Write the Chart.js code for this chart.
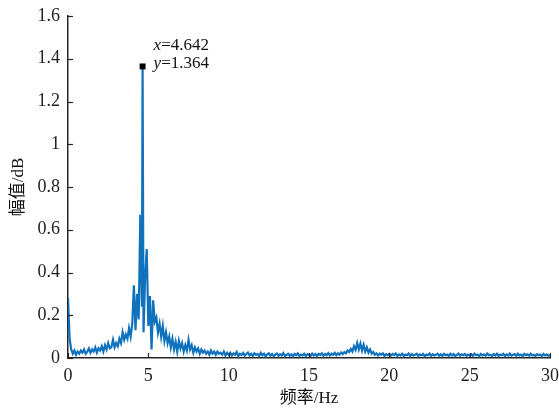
<!DOCTYPE html>
<html>
<head>
<meta charset="utf-8">
<script src="https://cdn.jsdelivr.net/npm/chart.js@4/dist/chart.umd.min.js"></script>
<style>
  html, body { margin: 0; padding: 0; background: #fff; }
  #wrap { width: 559px; height: 409px; }
</style>
</head>
<body>
<div id="wrap"><canvas id="specChart" width="559" height="409"></canvas></div>

<script>
  // spectrum bins, 0.1 Hz apart starting at 0 Hz
  var binStep = 0.1;
  var amplitude = [
    0.28, 0.09, 0.04, 0.02, 0.035, 0.015, 0.03, 0.02, 0.035, 0.025,
    0.04, 0.02, 0.03, 0.045, 0.025, 0.04, 0.03, 0.05, 0.025, 0.045,
    0.035, 0.055, 0.03, 0.06, 0.04, 0.07, 0.045, 0.05, 0.085, 0.05,
    0.07, 0.055, 0.09, 0.07, 0.12, 0.085, 0.11, 0.09, 0.14, 0.1,
    0.16, 0.34, 0.13, 0.3, 0.18, 0.67, 0.24, 0.12, 0.38, 0.51,
    0.15, 0.29, 0.04, 0.27, 0.17, 0.19, 0.12, 0.16, 0.1, 0.15,
    0.08, 0.12, 0.07, 0.1, 0.05, 0.09, 0.04, 0.075, 0.03, 0.08,
    0.045, 0.07, 0.03, 0.06, 0.035, 0.085, 0.04, 0.06, 0.025, 0.05,
    0.03, 0.045, 0.02, 0.04, 0.025, 0.035, 0.02, 0.03, 0.015, 0.035,
    0.02, 0.03, 0.015, 0.03, 0.02, 0.025, 0.015, 0.03, 0.012, 0.025,
    0.015,
    // 10.1 - 15.0 Hz
    0.025, 0.012, 0.022, 0.015, 0.028, 0.01, 0.02, 0.014, 0.024, 0.011,
    0.019, 0.026, 0.012, 0.02, 0.009, 0.022, 0.015, 0.018, 0.01, 0.024,
    0.013, 0.02, 0.008, 0.017, 0.022, 0.011, 0.019, 0.009, 0.016, 0.021,
    0.01, 0.018, 0.012, 0.023, 0.009, 0.015, 0.02, 0.011, 0.017, 0.008,
    0.019, 0.013, 0.022, 0.01, 0.016, 0.012, 0.02, 0.009, 0.018, 0.014,
    // 15.1 - 20.0 Hz
    0.01, 0.021, 0.012, 0.018, 0.009, 0.02, 0.014, 0.022, 0.011, 0.019,
    0.013, 0.023, 0.012, 0.02, 0.015, 0.024, 0.013, 0.022, 0.016, 0.026,
    0.018, 0.028, 0.022, 0.035, 0.028, 0.042, 0.03, 0.055, 0.038, 0.07,
    0.04, 0.068, 0.035, 0.062, 0.03, 0.05, 0.025, 0.04, 0.02, 0.028,
    0.015, 0.022, 0.012, 0.02, 0.016, 0.022, 0.01, 0.018, 0.013, 0.02,
    // 20.1 - 25.0 Hz
    0.011, 0.019, 0.014, 0.021, 0.009, 0.017, 0.012, 0.02, 0.01, 0.016,
    0.013, 0.021, 0.009, 0.018, 0.012, 0.015, 0.02, 0.01, 0.017, 0.012,
    0.019, 0.009, 0.016, 0.013, 0.021, 0.01, 0.018, 0.012, 0.015, 0.02,
    0.011, 0.017, 0.009, 0.019, 0.013, 0.016, 0.01, 0.02, 0.012, 0.018,
    0.009, 0.015, 0.021, 0.011, 0.017, 0.013, 0.019, 0.01, 0.016, 0.012,
    // 25.1 - 30.0 Hz
    0.018, 0.01, 0.02, 0.013, 0.016, 0.009, 0.019, 0.012, 0.017, 0.011,
    0.021, 0.013, 0.015, 0.009, 0.018, 0.012, 0.02, 0.01, 0.016, 0.013,
    0.019, 0.009, 0.017, 0.012, 0.021, 0.011, 0.015, 0.018, 0.01, 0.02,
    0.012, 0.016, 0.009, 0.019, 0.013, 0.017, 0.011, 0.02, 0.012, 0.015,
    0.01, 0.018, 0.013, 0.016, 0.009, 0.019, 0.012, 0.017, 0.01, 0.015
  ];

  // the marked peak
  var peakFreq = 4.642;
  var peakAmp = 1.364;

  var xTicks = [0, 5, 10, 15, 20, 25, 30];
  var yTicks = [0, 0.2, 0.4, 0.6, 0.8, 1, 1.2, 1.4, 1.6];

  var xTitle = "频率/Hz";
  var yTitle = "幅值/dB";

  var lineColor = "rgb(16, 114, 189)";
  var axisColor = "#262626";
  var serif = "'Liberation Serif', 'Noto Sans CJK SC', serif";

  var points = [];
  amplitude.forEach(function (a, i) {
    var f = Math.round(i * binStep * 10) / 10;
    points.push({ x: f, y: a });
    if (f < peakFreq && f + binStep > peakFreq) {
      points.push({ x: peakFreq, y: peakAmp });
    }
  });

  // inward tick marks + the peak readout text
  var decorPlugin = {
    id: "decor",
    afterDatasetsDraw: function (chart) {
      var ctx = chart.ctx;
      var xs = chart.scales.x, ys = chart.scales.y;
      var area = chart.chartArea;
      ctx.save();
      ctx.strokeStyle = axisColor;
      ctx.lineWidth = 1.2;
      xTicks.forEach(function (t) {
        var px = Math.round(xs.getPixelForValue(t)) + 0.5;
        ctx.beginPath();
        ctx.moveTo(px, area.bottom);
        ctx.lineTo(px, area.bottom - 5);
        ctx.stroke();
      });
      yTicks.forEach(function (t) {
        var py = Math.round(ys.getPixelForValue(t)) + 0.5;
        ctx.beginPath();
        ctx.moveTo(area.left, py);
        ctx.lineTo(area.left + 5, py);
        ctx.stroke();
      });

      var mx = xs.getPixelForValue(peakFreq);
      var my = ys.getPixelForValue(peakAmp);
      ctx.fillStyle = "#111";
      ctx.textBaseline = "alphabetic";
      ctx.textAlign = "left";
      var lines = [["x", "=" + peakFreq.toFixed(3), my - 16], ["y", "=" + peakAmp.toFixed(3), my + 2]];
      lines.forEach(function (ln) {
        var tx = mx + 11;
        ctx.font = "italic 17px 'Liberation Serif', serif";
        ctx.fillText(ln[0], tx, ln[2]);
        tx += ctx.measureText(ln[0]).width;
        ctx.font = "17px 'Liberation Serif', serif";
        ctx.fillText(ln[1], tx, ln[2]);
      });
      ctx.restore();
    }
  };

  var ctx = document.getElementById("specChart");
  new Chart(ctx, {
    type: "line",
    data: {
      datasets: [
        {
          label: "peak",
          type: "scatter",
          data: [{ x: peakFreq, y: peakAmp }],
          pointStyle: "rect",
          pointRadius: 4.2,
          backgroundColor: "#000",
          borderColor: "#000",
          borderWidth: 0,
          order: 0
        },
        {
          label: "spectrum",
          data: points,
          borderColor: lineColor,
          borderWidth: 2.2,
          pointRadius: 0,
          tension: 0,
          fill: false,
          order: 1
        }
      ]
    },
    options: {
      responsive: false,
      animation: false,
      layout: { padding: { left: 0, right: 9, top: 16, bottom: 0 } },
      plugins: { legend: { display: false }, tooltip: { enabled: false } },
      scales: {
        x: {
          type: "linear",
          min: 0,
          max: 30,
          afterFit: function (s) { s.height = 51; s.paddingLeft = 0; s.paddingRight = 0; },
          afterBuildTicks: function (s) { s.ticks = xTicks.map(function (v) { return { value: v }; }); },
          grid: { display: false, drawTicks: false },
          border: { display: true, color: axisColor, width: 1.5 },
          ticks: {
            padding: 7,
            color: "#222",
            font: { family: serif, size: 18 },
            maxRotation: 0
          },
          title: {
            display: true,
            text: xTitle,
            color: "#111",
            padding: { top: 0, bottom: 0 },
            font: { family: serif, size: 17 }
          }
        },
        y: {
          min: 0,
          max: 1.6,
          afterFit: function (s) { s.width = 68; s.paddingTop = 0; s.paddingBottom = 0; },
          afterBuildTicks: function (s) { s.ticks = yTicks.map(function (v) { return { value: v }; }); },
          grid: { display: false, drawTicks: false },
          border: { display: true, color: axisColor, width: 1.5 },
          ticks: {
            padding: 8,
            color: "#222",
            font: { family: serif, size: 18 },
            callback: function (v) { return String(+Number(v).toFixed(1)); }
          },
          title: {
            display: true,
            text: yTitle,
            color: "#111",
            padding: { top: 8, bottom: 0 },
            font: { family: serif, size: 17 }
          }
        }
      }
    },
    plugins: [decorPlugin]
  });
</script>
</body>
</html>
